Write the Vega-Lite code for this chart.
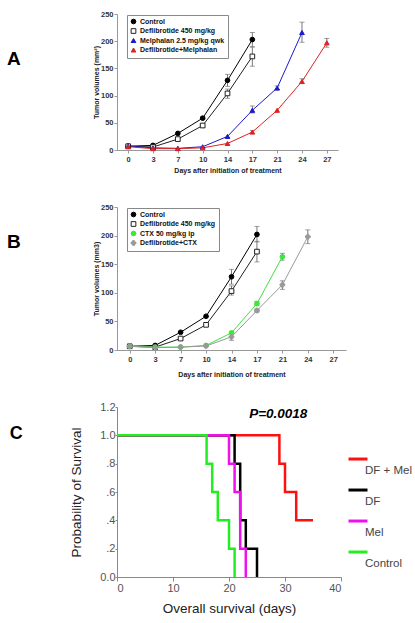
{
  "$schema": "https://vega.github.io/schema/vega-lite/v6.json",
  "background": "white",
  "padding": {"left": 7, "top": 10, "right": 2, "bottom": 2},
  "autosize": {"type": "pad"},
  "config": {
    "font": "Liberation Sans",
    "view": {"stroke": null},
    "axis": {"grid": false, "domainColor": "#999", "tickColor": "#999", "labelColor": "#333", "titleColor": "#222", "labelOverlap": false}
  },
  "datasets": {
    "tumorA": [
      {"series": "Control", "day": 0, "vol": 7},
      {"series": "Control", "day": 3, "vol": 8.5},
      {"series": "Control", "day": 7, "vol": 30.5},
      {"series": "Control", "day": 10, "vol": 58.5},
      {"series": "Control", "day": 14, "vol": 128},
      {"series": "Control", "day": 17, "vol": 203},
      {"series": "Deflibrotide 450 mg/kg", "day": 0, "vol": 7},
      {"series": "Deflibrotide 450 mg/kg", "day": 3, "vol": 5.5},
      {"series": "Deflibrotide 450 mg/kg", "day": 7, "vol": 20},
      {"series": "Deflibrotide 450 mg/kg", "day": 10, "vol": 45},
      {"series": "Deflibrotide 450 mg/kg", "day": 14, "vol": 104},
      {"series": "Deflibrotide 450 mg/kg", "day": 17, "vol": 172},
      {"series": "Melphalan 2.5 mg/kg qwk", "day": 0, "vol": 7},
      {"series": "Melphalan 2.5 mg/kg qwk", "day": 3, "vol": 4},
      {"series": "Melphalan 2.5 mg/kg qwk", "day": 7, "vol": 3},
      {"series": "Melphalan 2.5 mg/kg qwk", "day": 10, "vol": 6},
      {"series": "Melphalan 2.5 mg/kg qwk", "day": 14, "vol": 25},
      {"series": "Melphalan 2.5 mg/kg qwk", "day": 17, "vol": 73},
      {"series": "Melphalan 2.5 mg/kg qwk", "day": 21, "vol": 114},
      {"series": "Melphalan 2.5 mg/kg qwk", "day": 24, "vol": 216},
      {"series": "Deflibrotide+Melphalan", "day": 0, "vol": 6},
      {"series": "Deflibrotide+Melphalan", "day": 3, "vol": 2.5},
      {"series": "Deflibrotide+Melphalan", "day": 7, "vol": 2.5},
      {"series": "Deflibrotide+Melphalan", "day": 10, "vol": 4},
      {"series": "Deflibrotide+Melphalan", "day": 14, "vol": 12},
      {"series": "Deflibrotide+Melphalan", "day": 17, "vol": 33},
      {"series": "Deflibrotide+Melphalan", "day": 21, "vol": 73},
      {"series": "Deflibrotide+Melphalan", "day": 24, "vol": 126},
      {"series": "Deflibrotide+Melphalan", "day": 27, "vol": 197}
    ],
    "errA": [
      {"series": "Control", "day": 10, "lo": 56, "hi": 61},
      {"series": "Control", "day": 14, "lo": 117, "hi": 139},
      {"series": "Control", "day": 17, "lo": 190, "hi": 216},
      {"series": "Deflibrotide 450 mg/kg", "day": 10, "lo": 42, "hi": 48},
      {"series": "Deflibrotide 450 mg/kg", "day": 14, "lo": 95, "hi": 112},
      {"series": "Deflibrotide 450 mg/kg", "day": 17, "lo": 154, "hi": 189},
      {"series": "Melphalan 2.5 mg/kg qwk", "day": 17, "lo": 68, "hi": 81},
      {"series": "Melphalan 2.5 mg/kg qwk", "day": 21, "lo": 110, "hi": 118},
      {"series": "Melphalan 2.5 mg/kg qwk", "day": 24, "lo": 198, "hi": 235},
      {"series": "Deflibrotide+Melphalan", "day": 17, "lo": 30, "hi": 36},
      {"series": "Deflibrotide+Melphalan", "day": 24, "lo": 122, "hi": 131},
      {"series": "Deflibrotide+Melphalan", "day": 27, "lo": 189, "hi": 205}
    ],
    "tumorB": [
      {"series": "Control", "day": 0, "vol": 6.5},
      {"series": "Control", "day": 3, "vol": 8},
      {"series": "Control", "day": 7, "vol": 31},
      {"series": "Control", "day": 10, "vol": 59},
      {"series": "Control", "day": 14, "vol": 128},
      {"series": "Control", "day": 17, "vol": 202},
      {"series": "Deflibrotide 450 mg/kg", "day": 0, "vol": 6.5},
      {"series": "Deflibrotide 450 mg/kg", "day": 3, "vol": 5},
      {"series": "Deflibrotide 450 mg/kg", "day": 7, "vol": 20},
      {"series": "Deflibrotide 450 mg/kg", "day": 10, "vol": 44},
      {"series": "Deflibrotide 450 mg/kg", "day": 14, "vol": 103},
      {"series": "Deflibrotide 450 mg/kg", "day": 17, "vol": 172},
      {"series": "CTX 50 mg/kg ip", "day": 0, "vol": 6.5},
      {"series": "CTX 50 mg/kg ip", "day": 3, "vol": 5},
      {"series": "CTX 50 mg/kg ip", "day": 7, "vol": 5},
      {"series": "CTX 50 mg/kg ip", "day": 10, "vol": 8},
      {"series": "CTX 50 mg/kg ip", "day": 14, "vol": 30},
      {"series": "CTX 50 mg/kg ip", "day": 17, "vol": 81},
      {"series": "CTX 50 mg/kg ip", "day": 21, "vol": 163},
      {"series": "Deflibrotide+CTX", "day": 0, "vol": 6.5},
      {"series": "Deflibrotide+CTX", "day": 3, "vol": 4},
      {"series": "Deflibrotide+CTX", "day": 7, "vol": 5},
      {"series": "Deflibrotide+CTX", "day": 10, "vol": 7},
      {"series": "Deflibrotide+CTX", "day": 14, "vol": 23},
      {"series": "Deflibrotide+CTX", "day": 17, "vol": 69},
      {"series": "Deflibrotide+CTX", "day": 21, "vol": 114},
      {"series": "Deflibrotide+CTX", "day": 24, "vol": 198}
    ],
    "errB": [
      {"series": "Control", "day": 14, "lo": 115, "hi": 141},
      {"series": "Control", "day": 17, "lo": 189, "hi": 216},
      {"series": "Deflibrotide 450 mg/kg", "day": 14, "lo": 96, "hi": 112},
      {"series": "Deflibrotide 450 mg/kg", "day": 17, "lo": 154, "hi": 190},
      {"series": "CTX 50 mg/kg ip", "day": 17, "lo": 78, "hi": 85},
      {"series": "CTX 50 mg/kg ip", "day": 21, "lo": 157, "hi": 169},
      {"series": "Deflibrotide+CTX", "day": 14, "lo": 17, "hi": 29},
      {"series": "Deflibrotide+CTX", "day": 17, "lo": 66, "hi": 72},
      {"series": "Deflibrotide+CTX", "day": 21, "lo": 106, "hi": 121},
      {"series": "Deflibrotide+CTX", "day": 24, "lo": 186, "hi": 210}
    ],
    "surv": [
      {"series": "DF + Mel", "t": 0, "s": 1},
      {"series": "DF + Mel", "t": 29, "s": 0.8},
      {"series": "DF + Mel", "t": 30, "s": 0.6},
      {"series": "DF + Mel", "t": 32, "s": 0.4},
      {"series": "DF + Mel", "t": 35, "s": 0.4},
      {"series": "DF", "t": 0, "s": 1},
      {"series": "DF", "t": 21, "s": 0.8},
      {"series": "DF", "t": 22, "s": 0.4},
      {"series": "DF", "t": 23, "s": 0.2},
      {"series": "DF", "t": 25, "s": 0},
      {"series": "Mel", "t": 0, "s": 1},
      {"series": "Mel", "t": 20, "s": 0.8},
      {"series": "Mel", "t": 21, "s": 0.6},
      {"series": "Mel", "t": 22, "s": 0.2},
      {"series": "Mel", "t": 23, "s": 0},
      {"series": "Control", "t": 0, "s": 1},
      {"series": "Control", "t": 16, "s": 0.8},
      {"series": "Control", "t": 17, "s": 0.6},
      {"series": "Control", "t": 18, "s": 0.4},
      {"series": "Control", "t": 20, "s": 0.2},
      {"series": "Control", "t": 21, "s": 0}
    ],
    "ptext": [{"x": 28.8, "y": 1.15, "label": "P=0.0018"}]
  },
  "vconcat": [
    {
      "width": 221,
      "height": 136,
      "title": {"text": "A", "orient": "left", "angle": 0, "fontSize": 19, "fontWeight": "bold", "align": "right", "baseline": "middle", "anchor": "middle", "frame": "group", "offset": 58, "dy": -23, "color": "#000"},
      "encoding": {
        "x": {"field": "day", "type": "ordinal", "scale": {"type": "point", "padding": 0.45, "domain": [0, 3, 7, 10, 14, 17, 21, 24, 27]},
          "axis": {"labelAngle": 0, "labelFontSize": 7.5, "labelFontWeight": "bold", "tickSize": 3, "labelPadding": 2, "titleFontSize": 7, "titleFontWeight": "bold", "titlePadding": 4},
          "title": "Days after initiation of treatment"}
      },
      "layer": [
        {
          "data": {"name": "errA"},
          "mark": {"type": "errorbar", "ticks": {"size": 5}, "color": "#777", "thickness": 1},
          "encoding": {
            "y": {"field": "lo", "type": "quantitative", "title": "Tumor volumes (mm²)", "scale": {"domain": [0, 250]},
              "axis": {"values": [0, 50, 100, 150, 200, 250], "labelFontSize": 7.5, "labelFontWeight": "bold", "tickSize": 3, "labelPadding": 1, "titleFontSize": 7, "titleFontWeight": "bold", "titlePadding": 1}},
            "y2": {"field": "hi"}
          }
        },
        {
          "data": {"name": "tumorA"},
          "mark": {"type": "line", "strokeWidth": 1},
          "encoding": {
            "y": {"field": "vol", "type": "quantitative", "title": "Tumor volumes (mm²)", "scale": {"domain": [0, 250]},
              "axis": {"values": [0, 50, 100, 150, 200, 250], "labelFontSize": 7.5, "labelFontWeight": "bold", "tickSize": 3, "labelPadding": 1, "titleFontSize": 7, "titleFontWeight": "bold", "titlePadding": 1}},
            "stroke": {"field": "series", "type": "nominal", "scale": {"domain": ["Control", "Deflibrotide 450 mg/kg", "Melphalan 2.5 mg/kg qwk", "Deflibrotide+Melphalan"], "range": ["#000000", "#222222", "#1a1acc", "#dd2222"]},
              "legend": {"title": null, "orient": "none", "legendX": 10, "legendY": 1, "strokeColor": "#888", "padding": 3, "labelFontSize": 7, "labelFontWeight": "bold", "labelColor": "#111", "symbolSize": 22, "rowPadding": 0.5, "labelLimit": 200, "symbolStrokeWidth": 1, "labelOffset": 3}}
          }
        },
        {
          "data": {"name": "tumorA"},
          "mark": {"type": "point", "opacity": 1, "strokeWidth": 1, "size": 22},
          "encoding": {
            "y": {"field": "vol", "type": "quantitative", "title": "Tumor volumes (mm²)", "scale": {"domain": [0, 250]},
              "axis": {"values": [0, 50, 100, 150, 200, 250], "labelFontSize": 7.5, "labelFontWeight": "bold", "tickSize": 3, "labelPadding": 1, "titleFontSize": 7, "titleFontWeight": "bold", "titlePadding": 1}},
            "stroke": {"field": "series", "type": "nominal",
              "legend": {"title": null, "orient": "none", "legendX": 10, "legendY": 1, "strokeColor": "#888", "padding": 3, "labelFontSize": 7, "labelFontWeight": "bold", "labelColor": "#111", "symbolSize": 22, "rowPadding": 0.5, "labelLimit": 200, "symbolStrokeWidth": 1, "labelOffset": 3}},
            "fill": {"field": "series", "type": "nominal", "scale": {"domain": ["Control", "Deflibrotide 450 mg/kg", "Melphalan 2.5 mg/kg qwk", "Deflibrotide+Melphalan"], "range": ["#000000", "#ffffff", "#1a1acc", "#dd2222"]},
              "legend": {"title": null, "orient": "none", "legendX": 10, "legendY": 1, "strokeColor": "#888", "padding": 3, "labelFontSize": 7, "labelFontWeight": "bold", "labelColor": "#111", "symbolSize": 22, "rowPadding": 0.5, "labelLimit": 200, "symbolStrokeWidth": 1, "labelOffset": 3}},
            "shape": {"field": "series", "type": "nominal", "scale": {"domain": ["Control", "Deflibrotide 450 mg/kg", "Melphalan 2.5 mg/kg qwk", "Deflibrotide+Melphalan"], "range": ["circle", "square", "triangle-up", "triangle-up"]},
              "legend": {"title": null, "orient": "none", "legendX": 10, "legendY": 1, "strokeColor": "#888", "padding": 3, "labelFontSize": 7, "labelFontWeight": "bold", "labelColor": "#111", "symbolSize": 22, "rowPadding": 0.5, "labelLimit": 200, "symbolStrokeWidth": 1, "labelOffset": 3}}
          }
        }
      ]
    },
    {
      "width": 229,
      "height": 143,
      "title": {"text": "B", "orient": "left", "angle": 0, "fontSize": 19, "fontWeight": "bold", "align": "right", "baseline": "middle", "anchor": "middle", "frame": "group", "offset": 58, "dy": -37, "color": "#000"},
      "encoding": {
        "x": {"field": "day", "type": "ordinal", "scale": {"type": "point", "padding": 0.5, "domain": [0, 3, 7, 10, 14, 17, 21, 24, 27]},
          "axis": {"labelAngle": 0, "labelFontSize": 7.5, "labelFontWeight": "bold", "tickSize": 3, "labelPadding": 2, "titleFontSize": 7, "titleFontWeight": "bold", "titlePadding": 8},
          "title": "Days after initiation of treatment"}
      },
      "layer": [
        {
          "data": {"name": "errB"},
          "mark": {"type": "errorbar", "ticks": {"size": 5}, "color": "#777", "thickness": 1},
          "encoding": {
            "y": {"field": "lo", "type": "quantitative", "title": "Tumor volumes (mm3)", "scale": {"domain": [0, 250]},
              "axis": {"values": [0, 50, 100, 150, 200, 250], "labelFontSize": 7.5, "labelFontWeight": "bold", "tickSize": 3, "labelPadding": 1, "titleFontSize": 7, "titleFontWeight": "bold", "titlePadding": 1}},
            "y2": {"field": "hi"}
          }
        },
        {
          "data": {"name": "tumorB"},
          "mark": {"type": "line", "strokeWidth": 1},
          "encoding": {
            "y": {"field": "vol", "type": "quantitative", "title": "Tumor volumes (mm3)", "scale": {"domain": [0, 250]},
              "axis": {"values": [0, 50, 100, 150, 200, 250], "labelFontSize": 7.5, "labelFontWeight": "bold", "tickSize": 3, "labelPadding": 1, "titleFontSize": 7, "titleFontWeight": "bold", "titlePadding": 1}},
            "stroke": {"field": "series", "type": "nominal", "scale": {"domain": ["Control", "Deflibrotide 450 mg/kg", "CTX 50 mg/kg ip", "Deflibrotide+CTX"], "range": ["#000000", "#222222", "#44dd44", "#999999"]},
              "legend": {"title": null, "orient": "none", "legendX": 10, "legendY": 1, "strokeColor": "#888", "padding": 3, "labelFontSize": 7, "labelFontWeight": "bold", "labelColor": "#111", "symbolSize": 22, "rowPadding": 0.5, "labelLimit": 200, "symbolStrokeWidth": 1, "labelOffset": 3}}
          }
        },
        {
          "data": {"name": "tumorB"},
          "mark": {"type": "point", "opacity": 1, "strokeWidth": 1, "size": 22},
          "encoding": {
            "y": {"field": "vol", "type": "quantitative", "title": "Tumor volumes (mm3)", "scale": {"domain": [0, 250]},
              "axis": {"values": [0, 50, 100, 150, 200, 250], "labelFontSize": 7.5, "labelFontWeight": "bold", "tickSize": 3, "labelPadding": 1, "titleFontSize": 7, "titleFontWeight": "bold", "titlePadding": 1}},
            "stroke": {"field": "series", "type": "nominal",
              "legend": {"title": null, "orient": "none", "legendX": 10, "legendY": 1, "strokeColor": "#888", "padding": 3, "labelFontSize": 7, "labelFontWeight": "bold", "labelColor": "#111", "symbolSize": 22, "rowPadding": 0.5, "labelLimit": 200, "symbolStrokeWidth": 1, "labelOffset": 3}},
            "fill": {"field": "series", "type": "nominal", "scale": {"domain": ["Control", "Deflibrotide 450 mg/kg", "CTX 50 mg/kg ip", "Deflibrotide+CTX"], "range": ["#000000", "#ffffff", "#33ee33", "#999999"]},
              "legend": {"title": null, "orient": "none", "legendX": 10, "legendY": 1, "strokeColor": "#888", "padding": 3, "labelFontSize": 7, "labelFontWeight": "bold", "labelColor": "#111", "symbolSize": 22, "rowPadding": 0.5, "labelLimit": 200, "symbolStrokeWidth": 1, "labelOffset": 3}},
            "shape": {"field": "series", "type": "nominal", "scale": {"domain": ["Control", "Deflibrotide 450 mg/kg", "CTX 50 mg/kg ip", "Deflibrotide+CTX"], "range": ["circle", "square", "circle", "cross"]},
              "legend": {"title": null, "orient": "none", "legendX": 10, "legendY": 1, "strokeColor": "#888", "padding": 3, "labelFontSize": 7, "labelFontWeight": "bold", "labelColor": "#111", "symbolSize": 22, "rowPadding": 0.5, "labelLimit": 200, "symbolStrokeWidth": 1, "labelOffset": 3}}
          }
        }
      ]
    },
    {
      "width": 224,
      "height": 170,
      "title": {"text": "C", "orient": "left", "angle": 0, "fontSize": 18, "fontWeight": "bold", "align": "right", "baseline": "middle", "anchor": "middle", "frame": "group", "offset": 34, "dy": -58, "color": "#000"},
      "layer": [
        {
          "data": {"name": "surv"},
          "mark": {"type": "line", "interpolate": "step-after", "strokeWidth": 2.5},
          "encoding": {
            "x": {"field": "t", "type": "quantitative", "title": "Overall survival (days)", "scale": {"domain": [0, 40]},
              "axis": {"values": [0, 10, 20, 30, 40], "labelFontSize": 11, "labelColor": "#555", "labelFontWeight": "normal", "tickSize": 4, "labelPadding": 1, "titleFontSize": 13.5, "titleFontWeight": "normal", "titlePadding": 8, "domainColor": "#888", "tickColor": "#888"}},
            "y": {"field": "s", "type": "quantitative", "title": "Probability of Survival", "scale": {"domain": [0, 1.2], "nice": false},
              "axis": {"tickCount": 6, "labelExpr": "datum.value == 0 ? '0.0' : datum.value >= 1 ? format(datum.value, '.1f') : replace(format(datum.value, '.1f'), '0.', '.')", "labelOverlap": false, "labelFontSize": 11, "labelColor": "#555", "labelFontWeight": "normal", "tickSize": 2, "labelPadding": 0, "titleFontSize": 13.5, "titleFontWeight": "normal", "titlePadding": 16, "domainColor": "#888", "tickColor": "#888"}},
            "color": {"field": "series", "type": "nominal", "sort": null, "scale": {"domain": ["DF + Mel", "DF", "Mel", "Control"], "range": ["#ff1010", "#000000", "#ee11ee", "#22ee22"]},
              "legend": {"title": null, "orient": "none", "legendX": 230, "legendY": 53, "symbolType": "M-1,-1.26L1,-1.26", "symbolSize": 361, "symbolStrokeWidth": 3, "labelFontSize": 11.5, "labelColor": "#444", "rowPadding": 7, "labelOffset": -4}}
          }
        },
        {
          "data": {"name": "ptext"},
          "mark": {"type": "text", "align": "center", "baseline": "middle", "fontSize": 13.5, "fontWeight": "bold", "fontStyle": "italic", "color": "#000"},
          "encoding": {
            "x": {"field": "x", "type": "quantitative"},
            "y": {"field": "y", "type": "quantitative", "title": "Probability of Survival",
              "axis": {"tickCount": 6, "labelExpr": "datum.value == 0 ? '0.0' : datum.value >= 1 ? format(datum.value, '.1f') : replace(format(datum.value, '.1f'), '0.', '.')", "labelOverlap": false, "labelFontSize": 11, "labelColor": "#555", "labelFontWeight": "normal", "tickSize": 2, "labelPadding": 0, "titleFontSize": 13.5, "titleFontWeight": "normal", "titlePadding": 16, "domainColor": "#888", "tickColor": "#888"}},
            "text": {"field": "label"}
          }
        }
      ]
    }
  ],
  "spacing": 57,
  "bounds": "flush",
  "resolve": {"scale": {"stroke": "independent", "fill": "independent", "shape": "independent", "color": "independent"}}
}
